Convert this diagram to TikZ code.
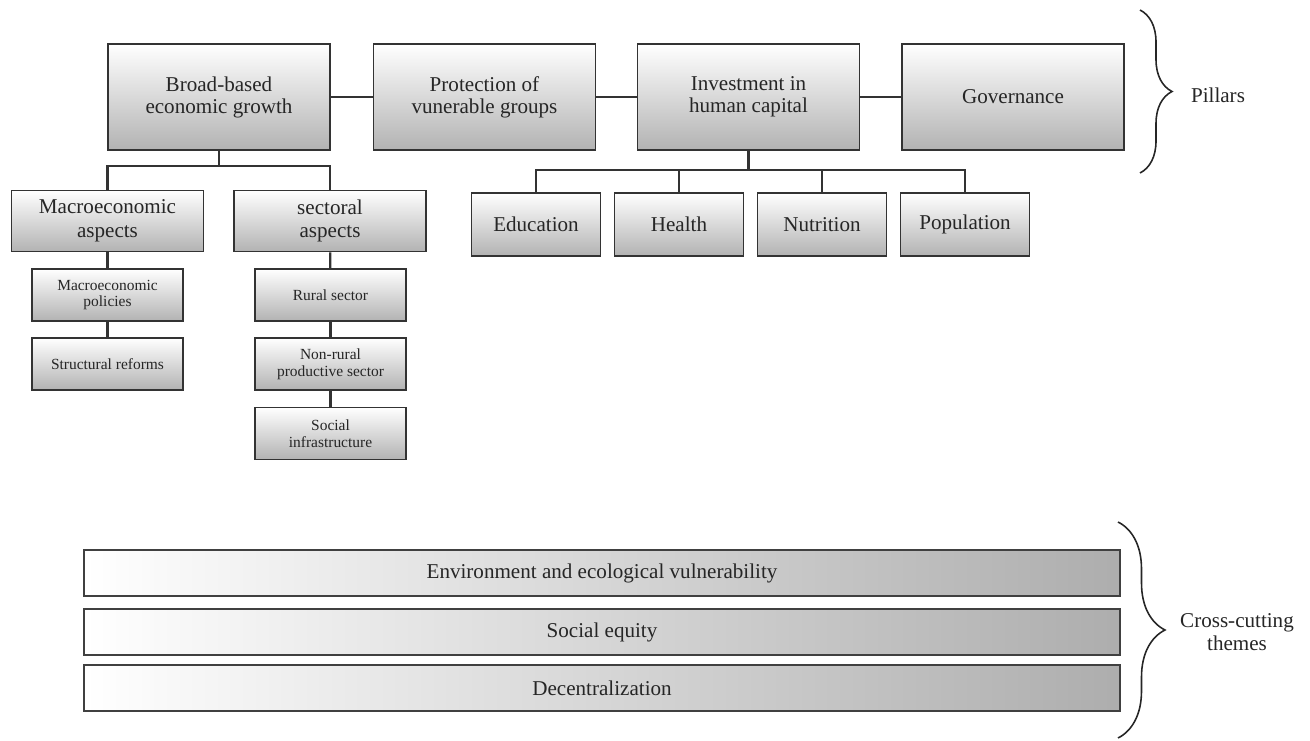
\documentclass[tikz,border=0pt]{standalone}
\usepackage{fontspec}
\setmainfont{Liberation Serif}
\usetikzlibrary{decorations.pathreplacing}

\begin{document}
\begin{tikzpicture}[
    pillar/.style={draw=black!80, line width=1pt, top color=white,
      bottom color=black!30, text=black!85, align=center,
      minimum width=4.44cm, minimum height=2.12cm,
      font=\fontsize{12}{12.5}\selectfont},
    aspect/.style={pillar, minimum width=3.84cm, minimum height=1.22cm,
      font=\fontsize{12}{13.5}\selectfont},
    sub/.style={pillar, minimum width=3.02cm, minimum height=1.04cm,
      font=\fontsize{8.8}{9.5}\selectfont},
    area/.style={pillar, minimum width=2.58cm, minimum height=1.26cm},
    theme/.style={draw=black!75, line width=1pt, left color=white,
      right color=black!32, text=black!85,
      minimum width=20.72cm, minimum height=0.92cm,
      font=\fontsize{12}{13}\selectfont},
    link/.style={draw=black!80, line width=1.3pt},
    grp/.style={draw=black!85, line width=0.9pt, decorate,
      decoration={brace, amplitude=#1}},
    side/.style={align=center, text=black!85, font=\fontsize{12}{13}\selectfont},
  ]
    \useasboundingbox (0,0) rectangle (26.2,14.8);

    % pillars
    \node[pillar] (growth) at (4.38,12.86) {Broad-based\\economic growth};
    \node[pillar] (protect) at (9.69,12.86) {Protection of\\vunerable groups};
    \node[pillar] (invest) at (14.97,12.86) {Investment in\\human capital};
    \node[pillar] (govern) at (20.26,12.86) {Governance};
    \draw[link] (growth) -- (protect);
    \draw[link] (protect) -- (invest);
    \draw[link] (invest) -- (govern);

    % growth branch
    \coordinate (gbus) at (4.38,11.48);
    \node[aspect] (macro) at (2.15,10.38) {Macroeconomic\\aspects};
    \node[aspect] (sector) at (6.6,10.38) {sectoral\\aspects};
    \draw[link] (growth) -- (gbus);
    \draw[link] (macro.north) |- (gbus) -| (sector.north);

    \node[sub] (macropol) at (2.15,8.9) {Macroeconomic\\policies};
    \node[sub] (reform) at (2.15,7.52) {Structural reforms};
    \draw[link] (macro) -- (macropol);
    \draw[link] (macropol) -- (reform);

    \node[sub] (rural) at (6.61,8.9) {Rural sector};
    \node[sub] (nonrural) at (6.61,7.52) {Non-rural\\productive sector};
    \node[sub] (infra) at (6.61,6.13) {Social\\infrastructure};
    \draw[link] (sector) -- (rural);
    \draw[link] (rural) -- (nonrural);
    \draw[link] (nonrural) -- (infra);

    % human capital branch
    \coordinate (hbus) at (14.97,11.4);
    \node[area] (edu) at (10.72,10.31) {Education};
    \node[area] (health) at (13.58,10.31) {Health};
    \node[area] (nutri) at (16.44,10.31) {Nutrition};
    \node[area] (popul) at (19.3,10.31) {Population};
    \draw[link] (invest) -- (hbus);
    \draw[link] (edu.north) |- (hbus) -| (popul.north);
    \draw[link] (health.north) -- (health.north |- hbus);
    \draw[link] (nutri.north) -- (nutri.north |- hbus);

    % themes
    \node[theme] (envir) at (12.04,3.34) {Environment and ecological vulnerability};
    \node[theme] (equity) at (12.04,2.16) {Social equity};
    \node[theme] (decent) at (12.04,1.04) {Decentralization};

    % braces
    \coordinate (ptop) at (22.8,14.6);
    \coordinate (pbot) at (22.8,11.34);
    \draw[grp=0.64cm] (ptop) -- (pbot);
    \node[side] (pillars) at (24.36,12.9) {Pillars};

    \coordinate (ctop) at (22.36,4.36);
    \coordinate (cbot) at (22.36,0.04);
    \draw[grp=0.94cm] (ctop) -- (cbot);
    \node[side] (cross) at (24.74,2.16) {Cross-cutting\\themes};
  \end{tikzpicture}
\end{document}
